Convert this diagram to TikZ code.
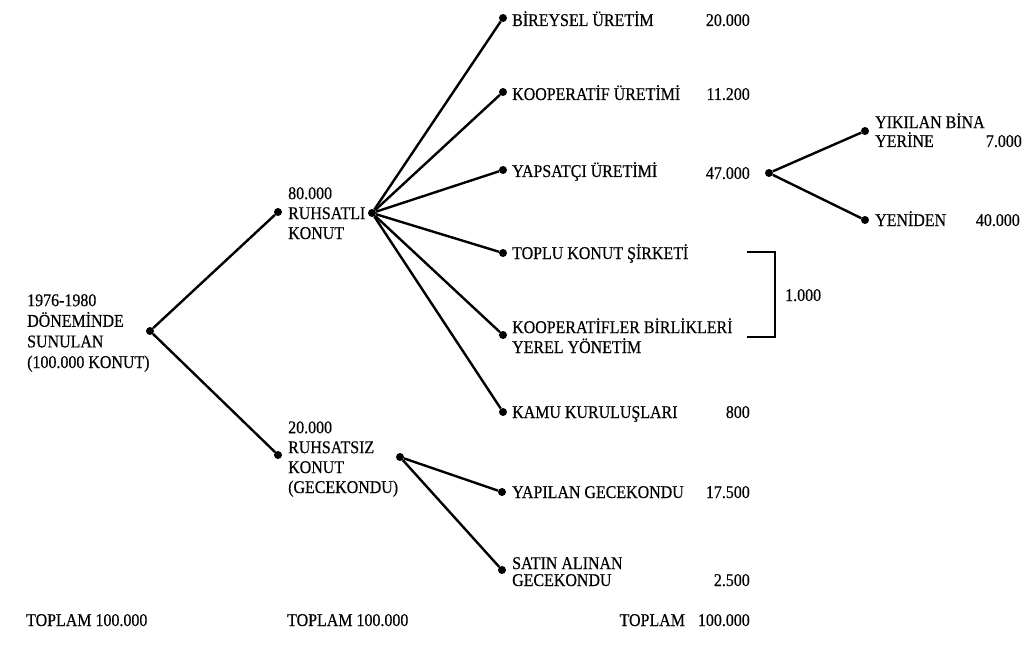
\documentclass[tikz,border=0pt]{standalone}
\usepackage{fontspec}
\setmainfont[FakeStretch=0.89,FakeBold=0.4]{Liberation Serif}
\begin{document}
\begin{tikzpicture}[x=1bp,y=-1bp,
    dot/.style={circle,fill,inner sep=0pt,minimum size=8bp},
    link/.style={line width=2.4bp},
    lbl/.style={anchor=base west,inner sep=0pt,align=left,font=\fontsize{18}{20}\selectfont},
    num/.style={anchor=base east,inner sep=0pt,font=\fontsize{18}{20}\selectfont}]
  \useasboundingbox (0,0) rectangle (1027,653);
  % first level
  \node[dot] (root) at (150,331) {};
  \node[lbl,font=\fontsize{18}{20.7}\selectfont] (rootlbl) at (27,368) {1976-1980\\DÖNEMİNDE\\SUNULAN\\(100.000 KONUT)};
  \node[dot] (ruhsatli) at (278,212) {};
  \node[lbl] (ruhsatlilbl) at (288,239) {80.000\\RUHSATLI\\KONUT};
  \node[dot] (ruhsatsiz) at (278,455) {};
  \node[lbl] (ruhsatsizlbl) at (288,493) {20.000\\RUHSATSIZ\\KONUT\\(GECEKONDU)};
  \draw[link] (root) -- (ruhsatli);
  \draw[link] (root) -- (ruhsatsiz);
  % licensed housing
  \node[dot] (hubA) at (372,213) {};
  \node[dot] (bireysel) at (503,18) {};
  \node[lbl] (bireysellbl) at (512,26) {BİREYSEL ÜRETİM};
  \node[num] (bireyselnum) at (750,26) {20.000};
  \node[dot] (koop) at (503,92) {};
  \node[lbl] (kooplbl) at (512,100) {KOOPERATİF ÜRETİMİ};
  \node[num] (koopnum) at (750,100) {11.200};
  \node[dot] (yapsatci) at (503,170) {};
  \node[lbl] (yapsatcilbl) at (512,177) {YAPSATÇI ÜRETİMİ};
  \node[num] (yapsatcinum) at (750,179) {47.000};
  \node[dot] (toplu) at (503,253) {};
  \node[lbl] (toplulbl) at (512,259) {TOPLU KONUT ŞİRKETİ};
  \node[dot] (birlik) at (503,335) {};
  \node[lbl] (birliklbl) at (512,353) {KOOPERATİFLER BİRLİKLERİ\\YEREL YÖNETİM};
  \node[dot] (kamu) at (503,412) {};
  \node[lbl] (kamulbl) at (512,418) {KAMU KURULUŞLARI};
  \node[num] (kamunum) at (750,418) {800};
  \foreach \leaf in {bireysel,koop,yapsatci,toplu,birlik,kamu}
    \draw[link] (hubA) -- (\leaf);
  % bracket
  \coordinate (brA) at (747,252);
  \coordinate (brB) at (775,252);
  \coordinate (brC) at (775,337);
  \coordinate (brD) at (747,337);
  \draw[line width=1.8bp] (brA) -- (brB) -- (brC) -- (brD);
  \node[lbl] (brnum) at (785,301) {1.000};
  % speculative builders
  \node[dot] (hubC) at (769,173) {};
  \node[dot] (yikilan) at (865,131) {};
  \node[lbl,font=\fontsize{18}{19}\selectfont] (yikilanlbl) at (875,147) {YIKILAN BİNA\\YERİNE};
  \node[num] (yikilannum) at (1022,147) {7.000};
  \node[dot] (yeniden) at (865,220) {};
  \node[lbl] (yenidenlbl) at (875,226) {YENİDEN};
  \node[num] (yenidennum) at (1020,226) {40.000};
  \draw[link] (hubC) -- (yikilan);
  \draw[link] (hubC) -- (yeniden);
  % unlicensed housing
  \node[dot] (hubB) at (400,457) {};
  \node[dot] (yapilan) at (502,492) {};
  \node[lbl] (yapilanlbl) at (512,498) {YAPILAN GECEKONDU};
  \node[num] (yapilannum) at (750,498) {17.500};
  \node[dot] (satin) at (502,570) {};
  \node[lbl,font=\fontsize{18}{17}\selectfont] (satinlbl) at (512,586) {SATIN ALINAN\\GECEKONDU};
  \node[num] (satinnum) at (750,586) {2.500};
  \draw[link] (hubB) -- (yapilan);
  \draw[link] (hubB) -- (satin);
  % totals
  \node[lbl] (toplamA) at (26,626) {TOPLAM 100.000};
  \node[lbl] (toplamB) at (287,626) {TOPLAM 100.000};
  \node[num] (toplamC) at (750,626) {TOPLAM\hspace{13bp}100.000};
\end{tikzpicture}
\end{document}
